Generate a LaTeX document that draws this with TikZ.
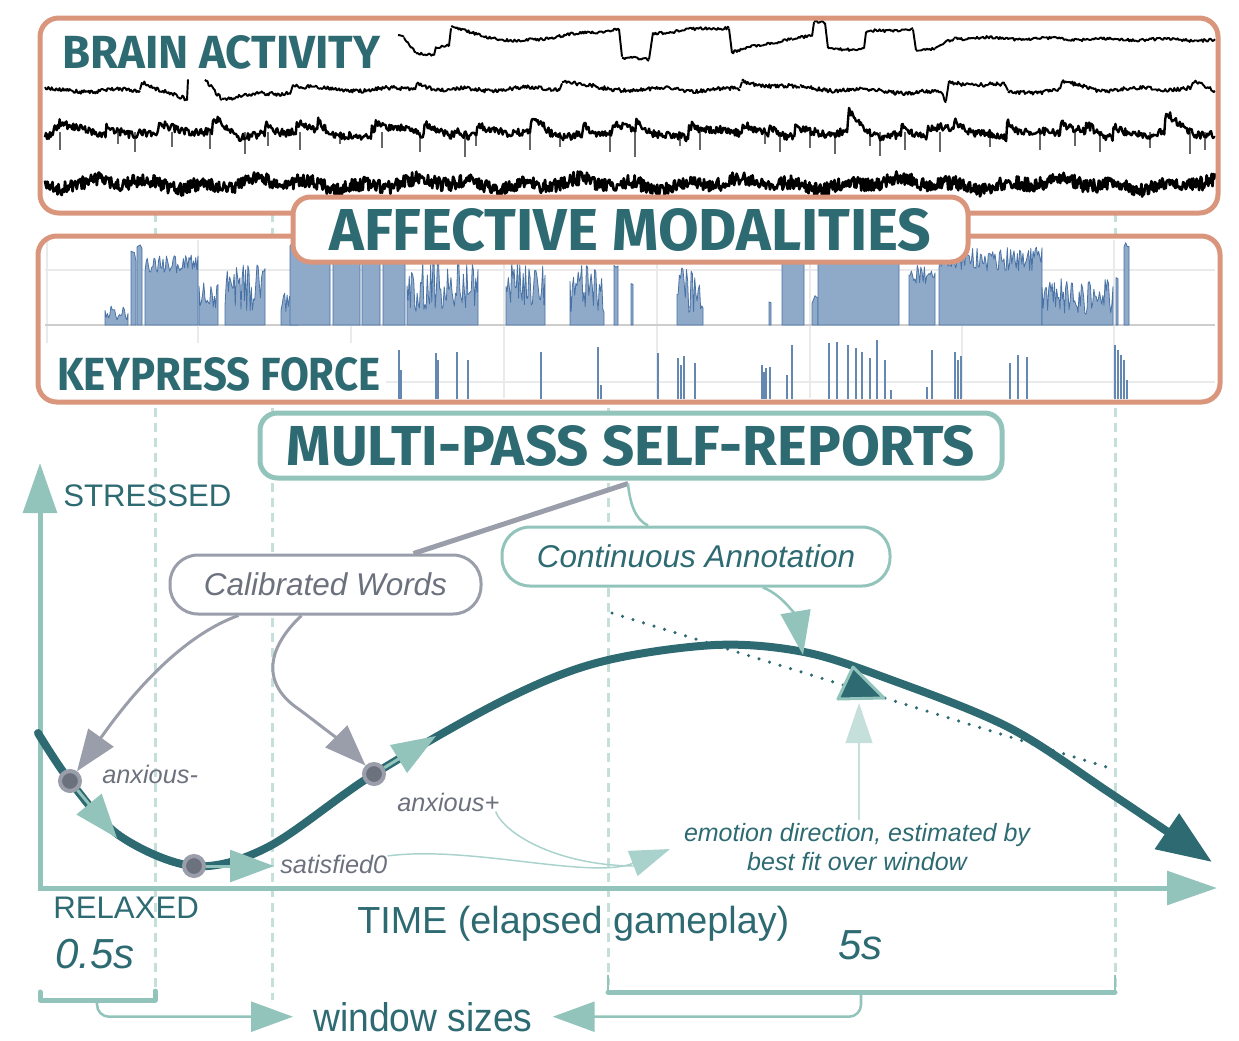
\documentclass[tikz,border=0pt]{standalone}
\usepackage{fontspec}
\usepackage{graphicx}
\setmainfont{Liberation Sans}
\newfontfamily\titlefont{Fira Sans}
\usetikzlibrary{arrows.meta,calc}
\definecolor{orng}{RGB}{217,150,124}
\definecolor{dteal}{RGB}{45,106,114}
\definecolor{lteal}{RGB}{147,196,188}
\definecolor{mteal}{RGB}{170,210,204}
\definecolor{vlteal}{RGB}{197,224,219}
\definecolor{gry}{RGB}{154,157,170}
\definecolor{dgry}{RGB}{108,113,126}
\definecolor{barfill}{RGB}{143,169,201}
\definecolor{baredge}{RGB}{74,115,165}
\definecolor{gridc}{RGB}{234,234,234}
\definecolor{axisc}{RGB}{205,205,205}
\newcommand\mytitle[3]{\resizebox{#1}{#2}{\titlefont\bfseries #3}}
\tikzset{
  guide/.style={draw=vlteal, line width=2.25pt, dash pattern=on 6.75pt off 4.5pt},
  oline/.style={draw=orng, line width=3.75pt, rounded corners=14pt},
  obox/.style={draw=orng, fill=white, line width=3.75pt, rounded corners=13pt, inner sep=0pt, text=dteal},
  tbox/.style={draw=lteal, fill=white, line width=3.75pt, rounded corners=13pt, inner sep=0pt, text=dteal},
  titlenode/.style={inner sep=0pt, text=dteal},
  eeg/.style={black, line width=1.45pt, line join=round},
  gridl/.style={draw=gridc, line width=1.1pt},
  axisl/.style={draw=axisc, line width=1.9pt},
  bar/.style={fill=barfill, draw=baredge, line width=0.6pt, line join=round},
  spike/.style={draw=baredge!85, line width=1.5pt},
  axisline/.style={draw=lteal, line width=3.75pt},
  curve/.style={draw=dteal, line width=6pt, line cap=round},
  pt/.style={circle, fill=dgry, draw=gry, line width=3pt, minimum size=15pt, inner sep=0pt},
  ltarrow/.style={draw=lteal, line width=2.25pt, -{Triangle[length=33pt,width=24pt]}},
  garrow/.style={draw=gry, line width=2.25pt, -{Triangle[length=31pt,width=23pt]}},
  lbl/.style={inner sep=0pt, text=dteal, font=\fontsize{23.4}{28}\selectfont},
  ptl/.style={inner sep=0pt, text=dgry, font=\fontsize{19}{22}\selectfont\itshape},
  pill/.style={line width=2.25pt, rounded corners=21pt, fill=white, minimum height=44.25pt, inner sep=0pt, font=\fontsize{23.6}{27}\selectfont\itshape},
  thinc/.style={draw=mteal, line width=1.1pt},
  thinl/.style={draw=lteal, line width=1.9pt, rounded corners=9pt},
  brk/.style={draw=lteal, line width=3.75pt, line cap=round, line join=round}
}
\begin{document}
\begin{tikzpicture}[x=0.75pt,y=-0.75pt]
\useasboundingbox (0,0) rectangle (1239,1040);
\pgfmathsetseed{11}
% vertical guide lines
\foreach \gx/\gy in {155/1000,272/1000,608/985,1115/990} \draw[guide] (\gx,213) -- (\gx,\gy);

% ---------------- brain activity box
\fill[white] (40,18) rectangle (1218,213);
\foreach \xa/\ya/\xb/\yb in {398/36/404/38, 404/38/416/53, 416/53/434/54, 434/54/436/47, 436/47/449/46, 449/46/451/28, 451/28/512/42, 512/42/619/29, 619/29/622/58, 622/58/649/60, 649/60/653/33, 653/33/729/27, 729/27/732/52, 732/52/792/38, 792/38/812/37, 812/37/814/22, 814/22/825/23, 825/23/828/48, 828/48/864/50, 864/50/866/32, 866/32/913/29, 913/29/916/50, 916/50/935/50, 935/50/940/45, 940/45/954/38, 954/38/1215/40}{
  \pgfmathtruncatemacro\ns{max(2,(\xb-\xa)/1.2)}
  \draw[eeg] plot[domain=\xa:\xb, samples=\ns] (\x,{\ya+(\yb-\ya)*(\x-\xa)/(\xb-\xa)+0.9*sin(\x*6.1)+1.4*rand});
}
\foreach \xa/\ya/\xb/\yb in {45/90/140/91, 140/91/142/81, 142/81/187/101, 187/101/188/79, 205/79/222/98, 222/98/290/92, 290/92/293/85, 293/85/330/90, 330/90/415/89, 415/89/417/82, 417/82/440/90, 440/90/560/88, 560/88/562/80, 562/80/600/89, 600/89/740/90, 740/90/742/82, 742/82/800/88, 800/88/940/93, 940/93/946/102, 946/102/949/82, 949/82/1005/86, 1005/86/1008/93, 1008/93/1060/90, 1060/90/1062/83, 1062/83/1100/90, 1100/90/1190/88, 1190/88/1193/82, 1193/82/1215/92}{
  \pgfmathtruncatemacro\ns{max(2,(\xb-\xa)/1.1)}
  \draw[eeg] plot[domain=\xa:\xb, samples=\ns] (\x,{\ya+(\yb-\ya)*(\x-\xa)/(\xb-\xa)+1.5*sin(\x*5.3)+2.0*rand});
}
\foreach \sx/\sl in {60/18, 118/12, 135/20, 172/15, 210/17, 245/22, 268/14, 300/18, 340/12, 382/16, 420/20, 465/25, 476/14, 530/18, 560/15, 610/20, 635/25, 680/14, 700/18, 765/12, 780/20, 810/16, 835/22, 870/14, 880/24, 905/18, 940/20, 990/15, 1040/18, 1075/14, 1100/20, 1150/16, 1190/22, 1205/18}
  \draw[black!60, line width=0.9pt] (\sx,132) -- (\sx,132+\sl);
\draw[eeg, line width=1.8pt] plot[domain=45:1215, samples=1200] (\x,{134+3*sin(\x*3.3)+2*sin(\x*7.9)-11*(1-mod(\x,53)/53)^5-8*(1-mod(\x+20,79)/79)^5+4*rand});
\draw[eeg, line width=2pt] plot[domain=45:1215, samples=1400] (\x,{184+3*sin(\x*6.7)+3*sin(\x*2.3)+7*rand});
\draw[oline] (40,18) rectangle (1218,213);
\node[titlenode, anchor=base west] (brainT) at (62,68) {\mytitle{238.5pt}{24.75pt}{BRAIN ACTIVITY}};

% ---------------- keypress box
\fill[white] (38,236) rectangle (1220,402);
\draw[gridl] (45,270) -- (1215,270) (45,382) -- (1215,382);
\foreach \gx in {47,198,351,504,657,810,962,1114} \draw[gridl] (\gx,240) -- (\gx,398);
\draw[axisl] (45,325) -- (1215,325);
\foreach \a/\b/\t/\v in {105/128/305/15, 131/136/250/12, 137/142/243/6, 145/198/255/18, 199/218/282/30, 225/265/262/50, 281/298/288/25, 290/330/240/10, 333/360/240/10, 362/380/240/10, 383/405/240/10, 407/478/262/50, 506/545/262/48, 570/604/265/48, 614/618/263/5, 631/633/283/3, 677/703/265/48, 769/771/300/3, 782/804/240/10, 812/818/295/10, 818/899/240/10, 909/935/262/22, 939/1042/247/24, 1042/1113/277/38, 1116/1118/277/3, 1124/1129/242/6}{
  \pgfmathtruncatemacro\ns{max(2,(\b-\a)/1.1)}
  \filldraw[bar] (\a,325) -- plot[domain=\a:\b, samples=\ns] (\x,{\t+\v*rnd}) -- (\b,325) -- cycle;
}
\foreach \sx/\st in {399/350, 401/370, 436/353, 438/360, 457/352, 468/360, 541/352, 598/347, 601/385, 658/353, 678/358, 681/365, 684/356, 695/363, 762/365, 764/372, 766/368, 770/367, 787/375, 792/345, 829/343, 837/342, 848/345, 856/348, 862/352, 870/358, 877/340, 885/360, 891/390, 927/387, 932/350, 955/352, 958/360, 961/356, 1010/363, 1018/355, 1027/357, 1115/345, 1118/350, 1121/355, 1124/360, 1127/380}
  \draw[spike] (\sx,399) -- (\sx,\st);
\fill[white] (40,343) rectangle (386,400);
\node[titlenode, anchor=base west] (keyT) at (57,390) {\mytitle{242.25pt}{24.75pt}{KEYPRESS FORCE}};
\draw[oline] (38,236) rectangle (1220,402);

% ---------------- title boxes
\node[obox, minimum width=506.25pt, minimum height=48.75pt] (aff) at (630.5,229.5) {\mytitle{451.5pt}{31.5pt}{AFFECTIVE MODALITIES}};
\node[tbox, minimum width=556.5pt, minimum height=48.75pt] (mp) at (631,445.5) {\mytitle{516pt}{30pt}{MULTI-PASS SELF-REPORTS}};

% ---------------- axes
\coordinate (ytip) at (40,463);
\coordinate (orig) at (40,888);
\coordinate (xtip) at (1217,888);
\draw[axisline, line join=miter, {Triangle[length=37.5pt,width=25pt]}-{Triangle[length=37.5pt,width=25pt]}] (ytip) -- (orig) -- (xtip);
\node[lbl, anchor=base west] (stressed) at (63,506) {STRESSED};
\node[lbl, anchor=base west] (relaxed) at (53,918) {RELAXED};
\node[lbl, anchor=base west, font=\fontsize{28.3}{32}\selectfont] (time) at (357,933) {TIME (elapsed gameplay)};
\node[lbl, anchor=base west, font=\fontsize{31.5}{36}\selectfont\itshape] (halfs) at (55,968) {0.5s};
\node[lbl, anchor=base west, font=\fontsize{31.5}{36}\selectfont\itshape] (fives) at (838,959) {5s};

% ---------------- curve
\draw[dteal, line width=2.6pt, line cap=round, dash pattern=on 0pt off 8.25pt] (612,613) -- (1116,770);
\draw[curve, -{Triangle[length=41pt,width=31pt]}] plot[smooth, tension=0.55] coordinates {(38,733) (70,781) (120,836) (194,866) (268,847) (374,774) (504,700) (600,662) (715,645) (804,652) (886,678) (1008,727) (1110,793) (1212,862)};
\filldraw[fill=dteal, draw=lteal, line width=2.25pt, line join=round] (853,667) -- (884,698) -- (838,699) -- cycle;
\coordinate (trib) at (859,703);

\node[pt] (A) at (70,781) {};
\node[pt] (S) at (194,866) {};
\node[pt] (B) at (374,774) {};
\draw[ltarrow] (A) -- (117,838);
\draw[ltarrow] (S) -- (274,866);
\draw[ltarrow] (B) -- (436,736);
\node[ptl, anchor=base west] (anxm) at (102,783) {anxious-};
\node[ptl, anchor=base west] (anxp) at (397,811) {anxious+};
\node[ptl, anchor=base west] (sat) at (280,873) {satisfied0};

\node[inner sep=2pt, align=center, text=dteal, font=\fontsize{18.75}{21.75}\selectfont\itshape] (emo) at (857,847) {emotion direction, estimated by\\best fit over window};
\draw[draw=vlteal, line width=1.5pt, -{Triangle[length=30pt,width=20pt]}] (emo.north -| trib) -- (trib);
\draw[thinc, -{Triangle[length=30pt,width=20pt,fill=mteal]}] ($(sat.east)+(0,-8)$) .. controls (470,845) and (590,880) .. (670,849);
\draw[thinc] ($(anxp.south east)+(-4,0)$) .. controls (505,835) and (560,866) .. (636,866);

% ---------------- annotation boxes
\node[pill, draw=gry, text=dgry, minimum width=233.25pt] (cw) at (325.5,584.5) {Calibrated Words};
\node[pill, draw=lteal, text=dteal, minimum width=291pt] (ca) at (696,556.5) {Continuous Annotation};
\draw[draw=gry, line width=3.75pt] ($(mp.south)+(-3,3)$) -- ($(cw.north)+(88,0)$);
\draw[draw=lteal, line width=1.9pt] ($(mp.south)+(-3,3)$) .. controls (630,505) and (636,520) .. ($(ca.north)+(-48,0)$);
\draw[ltarrow, line width=1.9pt, -{Triangle[length=33pt,width=22.5pt]}] ($(ca.south)+(67,0)$) .. controls (785,596) and (797,620) .. (803,655);
\draw[garrow] ($(cw.south west)+(70,0)$) .. controls (170,640) and (115,718) .. (A);
\draw[garrow] ($(cw.south west)+(133,0)$) .. controls (265,650) and (262,685) .. (300,710) .. controls (320,725) and (345,745) .. (B);

% ---------------- window sizes
\node[lbl, anchor=base west, font=\fontsize{30}{34}\selectfont] (ws) at (313,1031) {\scalebox{0.93}[1]{window sizes}};
\draw[brk] (40,992) -- (40,1000) -- (155,1000) -- (155,991);
\draw[brk] (608,992) -- (1115,992);
\draw[draw=lteal, line width=1.5pt] (608,975) -- (608,992) (1115,975) -- (1115,992);
\draw[thinl, -{Triangle[length=31.5pt,width=22.5pt]}] (97,1001) |- ($(ws.west)+(-20,0)$);
\draw[thinl, -{Triangle[length=31.5pt,width=22.5pt]}] (861,993) |- ($(ws.east)+(20,0)$);
\end{tikzpicture}
\end{document}
